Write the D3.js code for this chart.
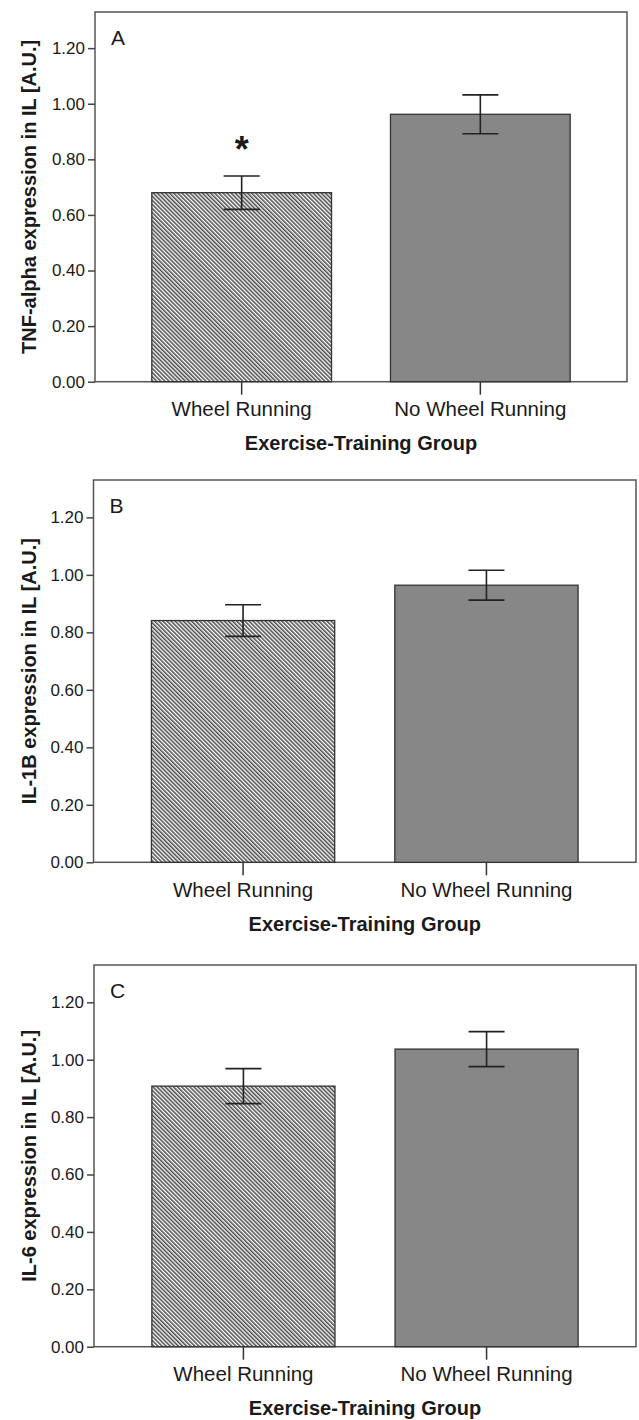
<!DOCTYPE html>
<html>
<head>
<meta charset="utf-8">
<script src="https://cdn.jsdelivr.net/npm/d3@7/dist/d3.min.js"></script>
<style>
  body { margin: 0; background: #fff; }
  text { font-family: "Liberation Sans", Arial, sans-serif; fill: #1a1a1a; }
  .tick text { font-size: 17px; }
  .xlab .tick text { font-size: 20.5px; }
  .axtitle { font-size: 20px; font-weight: bold; }
</style>
</head>
<body>
<div id="chart"></div>
<script>
// data
var groups = ['Wheel Running', 'No Wheel Running'];
var panelLetters = ['A', 'B', 'C'];
var yTitles = ['TNF-alpha expression in IL [A.U.]', 'IL-1B expression in IL [A.U.]', 'IL-6 expression in IL [A.U.]'];
var xTitle = 'Exercise-Training Group';
var tnfMean = [0.68, 0.962];
var tnfErr = [0.06, 0.07];
var il1bMean = [0.841, 0.964];
var il1bErr = [0.055, 0.052];
var il6Mean = [0.908, 1.037];
var il6Err = [0.061, 0.061];
var yTicks = [0, 0.2, 0.4, 0.6, 0.8, 1.0, 1.2];
var signif = ['*', ''];   // marker above each bar (panel A only)

var means = [tnfMean, il1bMean, il6Mean];
var errs = [tnfErr, il1bErr, il6Err];
var marks = [signif, ['', ''], ['', '']];

// plot boxes (page pixels) of the three panels
var boxes = [
  {left: 95, right: 627, top: 12, bottom: 381.7},
  {left: 93.5, right: 636, top: 480, bottom: 862.3},
  {left: 94, right: 636, top: 965, bottom: 1346.7}
];

var W = 639, H = 1420;
var svg = d3.select('#chart').append('svg').attr('width', W).attr('height', H);

var defs = svg.append('defs');
var pat = defs.append('pattern')
  .attr('id', 'hatch')
  .attr('patternUnits', 'userSpaceOnUse')
  .attr('width', 2.9).attr('height', 10)
  .attr('patternTransform', 'rotate(-45)');
pat.append('rect').attr('width', 2.9).attr('height', 10).attr('fill', '#fff');
pat.append('line').attr('x1', 0.8).attr('x2', 0.8).attr('y1', 0).attr('y2', 10)
  .attr('stroke', '#3a3a3a').attr('stroke-width', 1.4);

var fills = ['url(#hatch)', '#878787'];

boxes.forEach(function(b, p) {
  var x = d3.scaleBand().domain(groups).range([b.left, b.right])
    .paddingInner(0.247).paddingOuter(0.238);
  var y = d3.scaleLinear().domain([0, 1.33]).range([b.bottom, b.top]);

  var g = svg.append('g');

  // frame
  g.append('rect')
    .attr('x', b.left).attr('y', b.top)
    .attr('width', b.right - b.left).attr('height', b.bottom - b.top)
    .attr('fill', 'none').attr('stroke', '#555').attr('stroke-width', 1.5);

  // bars
  g.selectAll('.bar').data(groups).enter().append('rect')
    .attr('class', 'bar')
    .attr('x', function(d) { return x(d); })
    .attr('y', function(d, i) { return y(means[p][i]); })
    .attr('width', x.bandwidth())
    .attr('height', function(d, i) { return y(0) - y(means[p][i]); })
    .attr('fill', function(d, i) { return fills[i]; })
    .attr('stroke', '#333').attr('stroke-width', 1.3);

  // error bars
  var eb = g.selectAll('.err').data(groups).enter().append('g').attr('class', 'err')
    .attr('stroke', '#222').attr('stroke-width', 1.6);
  eb.append('line')
    .attr('x1', function(d) { return x(d) + x.bandwidth() / 2; })
    .attr('x2', function(d) { return x(d) + x.bandwidth() / 2; })
    .attr('y1', function(d, i) { return y(means[p][i] - errs[p][i]); })
    .attr('y2', function(d, i) { return y(means[p][i] + errs[p][i]); });
  [-1, 1].forEach(function(s) {
    eb.append('line')
      .attr('x1', function(d) { return x(d) + x.bandwidth() / 2 - 18; })
      .attr('x2', function(d) { return x(d) + x.bandwidth() / 2 + 18; })
      .attr('y1', function(d, i) { return y(means[p][i] + s * errs[p][i]); })
      .attr('y2', function(d, i) { return y(means[p][i] + s * errs[p][i]); });
  });

  // significance marks
  g.selectAll('.sig').data(groups).enter().append('text')
    .attr('x', function(d) { return x(d) + x.bandwidth() / 2; })
    .attr('y', function(d, i) { return y(means[p][i] + errs[p][i]) - 14; })
    .attr('text-anchor', 'middle')
    .style('font-size', '36px').style('font-weight', 'bold')
    .text(function(d, i) { return marks[p][i]; });

  // y axis
  var ya = g.append('g').attr('transform', 'translate(' + b.left + ',0)')
    .call(d3.axisLeft(y).tickValues(yTicks).tickSize(7).tickPadding(3).tickFormat(d3.format('.2f')));
  ya.select('.domain').remove();
  ya.selectAll('.tick line').attr('stroke', '#444').attr('stroke-width', 1.5);

  // x axis
  var xa = g.append('g').attr('class', 'xlab').attr('transform', 'translate(0,' + b.bottom + ')')
    .call(d3.axisBottom(x).tickSize(13));
  xa.select('.domain').remove();
  xa.selectAll('.tick line').attr('stroke', '#333').attr('stroke-width', 1.5);
  xa.selectAll('.tick text').attr('y', 34.5).attr('dy', null);

  // panel letter
  g.append('text')
    .attr('x', b.left + 16).attr('y', b.top + 33)
    .style('font-size', '21px')
    .text(panelLetters[p]);

  // axis titles
  g.append('text').attr('class', 'axtitle')
    .attr('x', (b.left + b.right) / 2).attr('y', b.bottom + 68.5)
    .attr('text-anchor', 'middle')
    .text(xTitle);
  g.append('text').attr('class', 'axtitle')
    .attr('transform', 'translate(36,' + (b.top + b.bottom) / 2 + ') rotate(-90)')
    .attr('text-anchor', 'middle')
    .text(yTitles[p]);
});
</script>
</body>
</html>
